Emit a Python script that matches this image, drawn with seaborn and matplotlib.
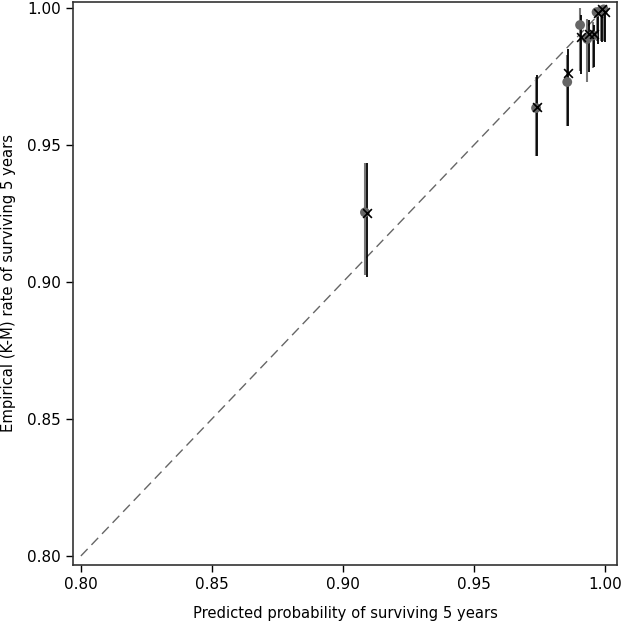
import matplotlib
matplotlib.use("Agg")
import matplotlib.pyplot as plt
import seaborn as sns
import pandas as pd

# Black "x" series (Kaplan-Meier estimates)
pred_black = [0.9092, 0.9740, 0.9859, 0.9908, 0.9939, 0.9958, 0.9973, 0.9989, 1.0000]
obs_black = [0.9252, 0.9639, 0.9763, 0.9894, 0.9905, 0.9905, 0.9980, 0.9996, 0.9985]
lo_black = [0.9018, 0.9460, 0.9570, 0.9760, 0.9766, 0.9785, 0.9870, 0.9876, 0.9876]
hi_black = [0.9434, 0.9755, 0.9850, 0.9974, 0.9956, 0.9938, 1.0000, 1.0000, 1.0000]

# Grey circle series
pred_grey = [0.9084, 0.9737, 0.9856, 0.9905, 0.9932, 0.9955, 0.9968, 0.9985, 0.9995]
obs_grey = [0.9254, 0.9635, 0.9730, 0.9938, 0.9887, 0.9900, 0.9985, 0.9990, 0.9995]
lo_grey = [0.9025, 0.9460, 0.9570, 0.9770, 0.9730, 0.9780, 0.9880, 0.9880, 0.9880]
hi_grey = [0.9436, 0.9750, 0.9830, 1.0000, 0.9960, 0.9950, 1.0000, 1.0000, 1.0000]

xticks = [0.80, 0.85, 0.90, 0.95, 1.00]
yticks = [0.80, 0.85, 0.90, 0.95, 1.00]

sns.set_style("ticks")
plt.rcParams['font.family'] = ['DejaVu Sans']

fig = plt.figure(figsize=(6.22, 6.21), dpi=100)
ax = fig.add_axes([0.1174, 0.0902, 0.8746, 0.9066])

df_b = pd.DataFrame({"x": pred_black, "y": obs_black})
df_g = pd.DataFrame({"x": pred_grey, "y": obs_grey})

# diagonal reference
ax.plot([0.80, 1.00], [0.80, 1.00], color="#666666", lw=1.0, dashes=(7, 4), zorder=1)

ax.vlines(pred_grey, lo_grey, hi_grey, color="#777777", lw=1.5, zorder=2)
ax.vlines(pred_black, lo_black, hi_black, color="black", lw=1.3, zorder=3)

sns.scatterplot(data=df_g, x="x", y="y", ax=ax, marker="o", s=50,
                color="#666666", edgecolor="none", zorder=4, legend=False)
sns.scatterplot(data=df_b, x="x", y="y", ax=ax, marker="x", s=40,
                color="black", linewidth=1.2, zorder=5, legend=False)

ax.set_xlim(0.797, 1.0046)
ax.set_ylim(0.7967, 1.0022)
ax.set_xticks(xticks)
ax.set_yticks(yticks)
ax.set_xticklabels([f"{t:.2f}" for t in xticks])
ax.set_yticklabels([f"{t:.2f}" for t in yticks])
ax.tick_params(direction="out", length=5, width=1, labelsize=11,
               colors="black", labelcolor="black")

for sp in ax.spines.values():
    sp.set_visible(True)
    sp.set_color("#333333")
    sp.set_linewidth(1.2)

ax.set_xlabel("Predicted probability of surviving 5 years", fontsize=10.6,
              labelpad=10, color="black")
ax.set_ylabel("Empirical (K-M) rate of surviving 5 years", fontsize=10.6,
              labelpad=8, color="black")

fig.savefig("out.png", dpi=100)
